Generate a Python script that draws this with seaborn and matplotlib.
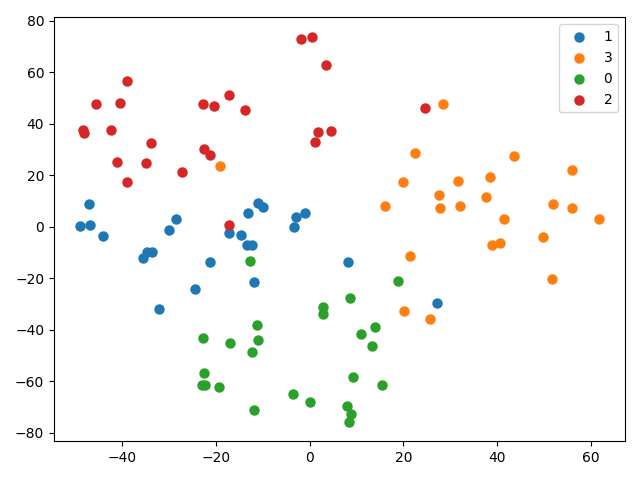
import pandas as pd
import matplotlib
matplotlib.use('Agg')
import matplotlib.pyplot as plt
import seaborn as sns

# cluster 1 (blue)
x1 = [-49.0, -47.1, -46.8, -44.1, -35.5, -34.6, -33.7, -32.1, -30.0, -28.5, -24.4, -21.3, -17.3,
      -14.6, -13.4, -12.3, -13.2, -11.9, -11.0, -9.9, -3.3, -3.0, -1.0, 8.1, 27.1]
y1 = [0.3, 8.8, 0.7, -3.6, -12.1, -9.7, -9.7, -31.8, -1.3, 3.0, -24.2, -13.7, -2.5,
      -3.2, -7.0, -7.0, 5.3, -21.4, 9.2, 7.6, -0.1, 3.7, 5.3, -13.7, -29.6]

# cluster 3 (orange)
x3 = [-19.1, 16.1, 19.8, 20.1, 21.4, 22.5, 25.7, 27.6, 27.8, 28.4, 31.6, 32.1, 37.6, 38.4,
      38.9, 40.6, 41.4, 43.6, 49.7, 51.7, 51.9, 55.9, 55.9, 61.7]
y3 = [23.5, 8.0, 17.3, -32.6, -11.4, 28.6, -35.8, 12.3, 7.4, 47.9, 17.7, 8.0, 11.5, 19.3,
      -7.1, -6.3, 3.0, 27.5, -4.0, -20.3, 8.8, 22.0, 7.4, 3.0]

# cluster 0 (green)
x0 = [-12.7, 18.8, 8.6, 2.8, 2.8, -11.2, 13.9, 10.9, -22.7, -11.0, -17.0, 13.3, -12.3,
      -22.5, 9.2, -22.9, -22.4, 15.4, -19.3, -3.6, 0.1, 8.0, -11.9, 8.8, 8.4]
y0 = [-13.3, -21.1, -27.5, -31.1, -33.8, -38.1, -38.9, -41.6, -43.2, -43.9, -45.1, -46.2, -48.6,
      -56.7, -58.3, -61.4, -61.6, -61.4, -62.1, -64.9, -67.9, -69.5, -71.0, -72.6, -75.8]

# cluster 2 (red)
x2 = [-48.3, -48.1, -45.6, -42.4, -41.1, -40.4, -38.95, -38.9, -34.9, -33.8, -27.2, -22.7, -22.5,
      -21.3, -20.4, -17.3, -17.3, -13.9, -1.85, 0.5, 3.5, 1.2, 1.8, 4.5, 24.6]
y2 = [37.6, 36.3, 47.6, 37.5, 25.2, 48.3, 56.5, 17.3, 24.7, 32.4, 21.2, 47.6, 30.2,
      27.8, 46.8, 51.4, 0.8, 45.6, 73.1, 73.9, 62.7, 32.9, 36.8, 37.2, 46.0]

groups = {'1': (x1, y1, 'tab:blue'), '3': (x3, y3, 'tab:orange'),
          '0': (x0, y0, 'tab:green'), '2': (x2, y2, 'tab:red')}

fig, ax = plt.subplots(figsize=(6.4, 4.8), dpi=100)
for name, (xs, ys, col) in groups.items():
    df = pd.DataFrame({'x': xs, 'y': ys})
    sns.scatterplot(data=df, x='x', y='y', color=col, s=36, linewidth=1.5,
                    edgecolor='face', label=name, ax=ax)

ax.set(xlabel='', ylabel='')
ax.legend(loc='upper right')
plt.tight_layout()
plt.savefig('out.png')
